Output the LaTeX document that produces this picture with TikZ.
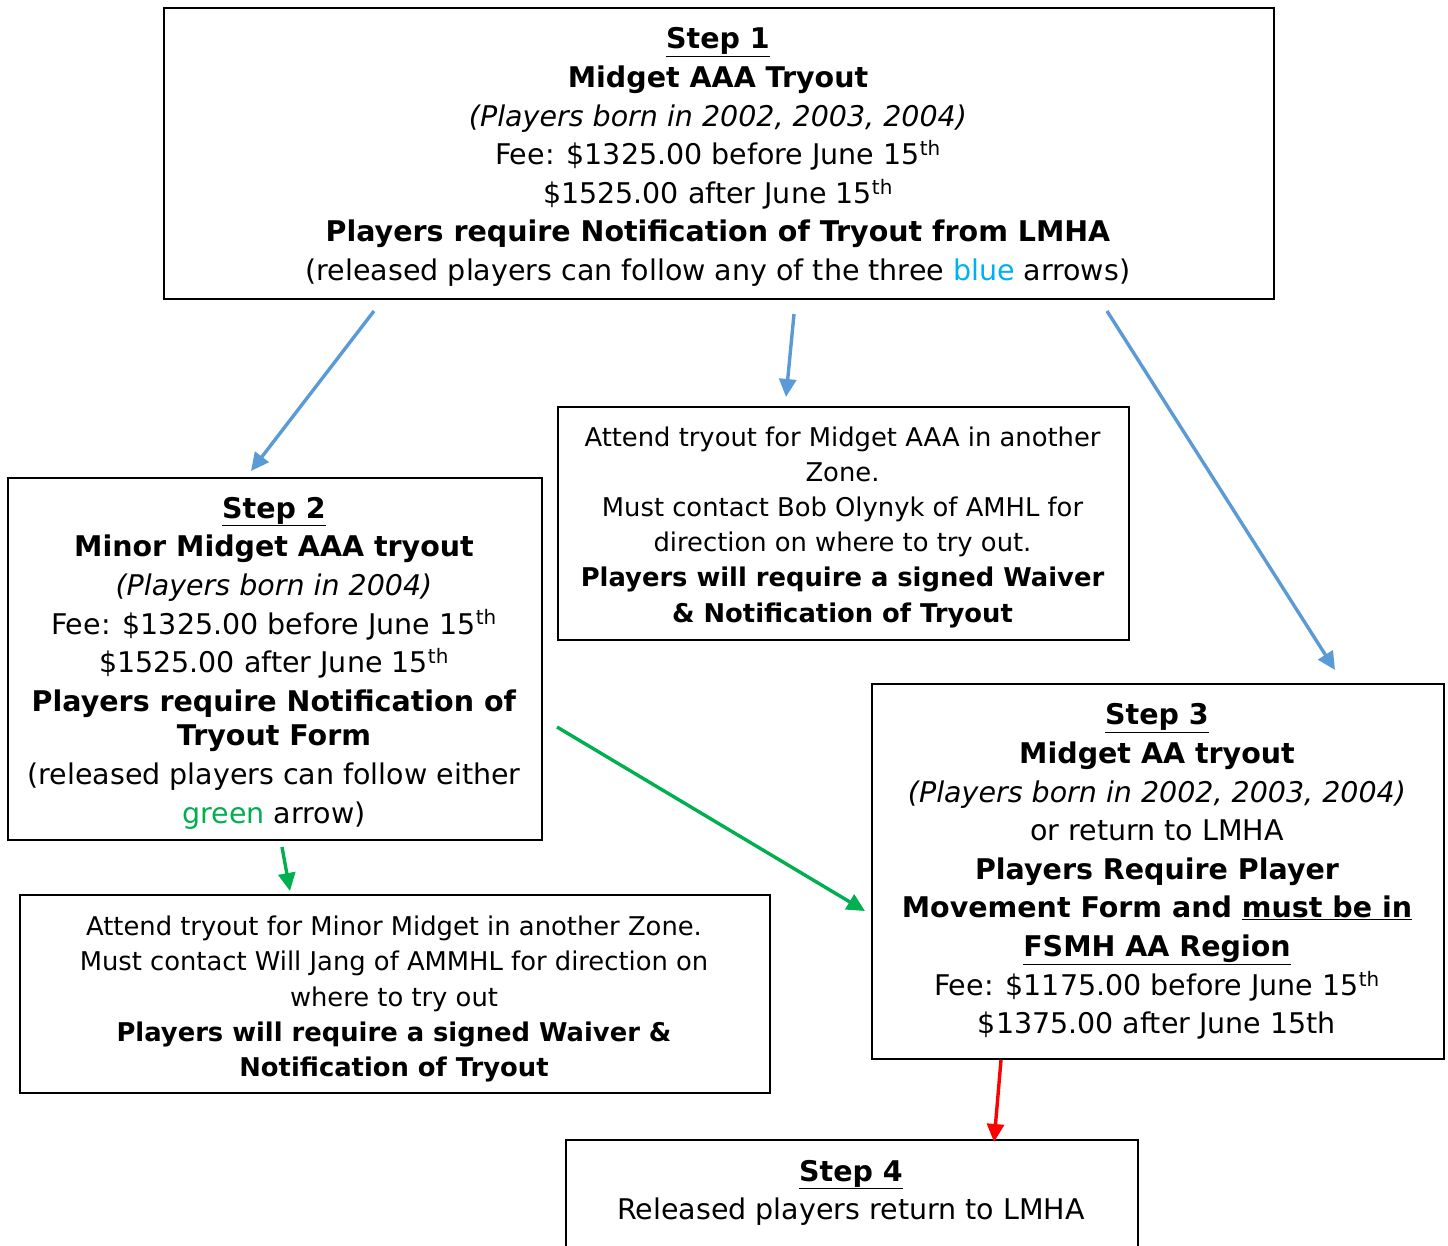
\documentclass[tikz,border=0pt]{standalone}
\usepackage{fontspec}
\setmainfont{DejaVu Sans}
\usetikzlibrary{arrows.meta}
\definecolor{arrowblue}{HTML}{5B9BD5}
\definecolor{arrowgreen}{HTML}{00B050}
\definecolor{textblue}{HTML}{00B0F0}
\definecolor{arrowred}{HTML}{FF0000}
\begin{document}
\begin{tikzpicture}[x=1pt,y=-1pt,
  frame/.style={draw, line width=2pt, anchor=north west, inner sep=0pt},
  txt/.style={align=center, inner sep=0pt, font=\fontsize{28.5}{38.6}\selectfont},
  ztxt/.style={align=center, inner sep=0pt, font=\fontsize{25.8}{35.2}\selectfont},
  arr/.style={line width=3.4pt, -{Triangle[length=18pt,width=17pt]}},
]
\fill[white] (0,0) rectangle (1448,1246);
\useasboundingbox (0,0) rectangle (1448,1246);

% boxes
\node[frame, minimum width=1110pt, minimum height=291pt] (s1) at (163,7) {};
\node[frame, minimum width=534pt, minimum height=362pt] (s2) at (7,477) {};
\node[frame, minimum width=571pt, minimum height=233pt] (z1) at (557,406) {};
\node[frame, minimum width=572pt, minimum height=375pt] (s3) at (871,683) {};
\node[frame, minimum width=750pt, minimum height=198pt] (z2) at (19,894) {};
\node[frame, minimum width=572pt, minimum height=150pt] (s4) at (565,1139) {};

% texts
\node[txt] (s1t) at (718,157) {\textbf{\underline{Step 1}}\\ \textbf{Midget AAA Tryout}\\ \textit{(Players born in 2002, 2003, 2004)}\\ Fee: \$1325.00 before June 15\textsuperscript{th}\\ \$1525.00 after June 15\textsuperscript{th}\\ \textbf{Players require Notification of Tryout from LMHA}\\ (released players can follow any of the three \textcolor{textblue}{blue} arrows)};

\node[txt] (s2t) at (274,663) {\textbf{\underline{Step 2}}\\ \textbf{Minor Midget AAA tryout}\\ \textit{(Players born in 2004)}\\ Fee: \$1325.00 before June 15\textsuperscript{th}\\ \$1525.00 after June 15\textsuperscript{th}\\ \textbf{Players require Notification of}\\[-4pt] \textbf{Tryout Form}\\ (released players can follow either\\ \textcolor{arrowgreen}{green} arrow)};

\node[ztxt] (z1t) at (842.5,527) {Attend tryout for Midget AAA in another\\ Zone.\\ Must contact Bob Olynyk of AMHL for\\ direction on where to try out.\\ \textbf{Players will require a signed Waiver}\\ \textbf{\& Notification of Tryout}};

\node[txt] (s3t) at (1157,871.5) {\textbf{\underline{Step 3}}\\ \textbf{Midget AA tryout}\\ \textit{(Players born in 2002, 2003, 2004)}\\ or return to LMHA\\ \textbf{Players Require Player}\\ \textbf{Movement Form and \underline{must be in}}\\ \textbf{\underline{FSMH AA Region}}\\ Fee: \$1175.00 before June 15\textsuperscript{th}\\ \$1375.00 after June 15th};

\node[ztxt] (z2t) at (394,999) {Attend tryout for Minor Midget in another Zone.\\ Must contact Will Jang of AMMHL for direction on\\ where to try out\\ \textbf{Players will require a signed Waiver \&}\\ \textbf{Notification of Tryout}};

\node[txt] (s4t) at (851,1193) {\textbf{\underline{Step 4}}\\ Released players return to LMHA};

% arrow end points
\coordinate (b1s) at (374,311);
\coordinate (b1e) at (251,471);
\coordinate (b2s) at (794,314);
\coordinate (b2e) at (786,397);
\coordinate (b3s) at (1107,311);
\coordinate (b3e) at (1335,670);
\coordinate (g1s) at (557,727);
\coordinate (g1e) at (865,911);
\coordinate (g2s) at (282,847);
\coordinate (g2e) at (290,891);
\coordinate (r1s) at (1001,1060);
\coordinate (r1e) at (994,1142);

\draw[arr, arrowblue] (b1s) -- (b1e);
\draw[arr, arrowblue] (b2s) -- (b2e);
\draw[arr, arrowblue] (b3s) -- (b3e);
\draw[arr, arrowgreen] (g1s) -- (g1e);
\draw[arr, arrowgreen] (g2s) -- (g2e);
\draw[arr, arrowred] (r1s) -- (r1e);
\end{tikzpicture}
\end{document}
